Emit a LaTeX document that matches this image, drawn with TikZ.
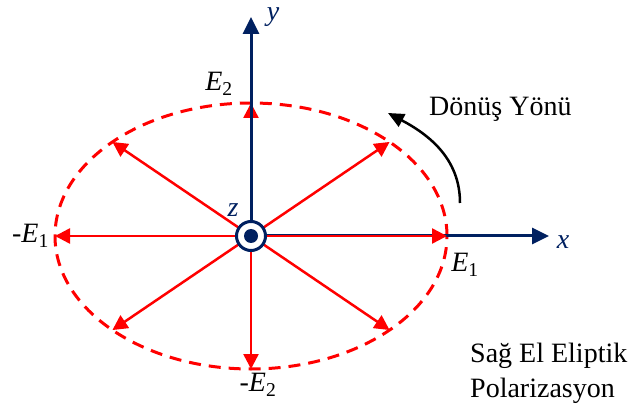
\documentclass[tikz,border=0pt]{standalone}
\usepackage{fontspec}
\setmainfont{Liberation Serif}
\usepackage{xcolor}
\usetikzlibrary{positioning,arrows.meta}
\definecolor{axisblue}{HTML}{002060}

\begin{document}
\begin{tikzpicture}[
x=1pt, y=1pt,
font=\fontsize{28}{35}\selectfont,
field/.style={-{Triangle[length=15pt,width=15pt]}, line width=2.5pt, red},
axis/.style={-{Triangle[length=17pt,width=16pt]}, line width=3pt, axisblue},
lbl/.style={inner sep=1pt, font=\fontsize{28}{35}\selectfont\itshape},
turn/.style={-{Triangle[length=16pt,width=14pt]}, line width=2.5pt, black}
]
\useasboundingbox (0,0) rectangle (636,415);
\coordinate (c) at (251,179);
\draw[red, line width=3pt, dash pattern=on 12pt off 8pt] (c) ellipse [x radius=196, y radius=133];
\foreach \a in {0,45,...,315}
  \path (c) ++(\a:196 and 133) coordinate (p\a);
\coordinate (xend) at (549,179);
\coordinate (yend) at (251,398);
\draw[axis] (c) -- (xend);
\foreach \a in {0,45,...,315}
  \draw[field] (c) -- (p\a);
\draw[axis] (c) -- (yend);
\node[circle, draw=axisblue, line width=3pt, fill=white, minimum size=29pt, inner sep=0pt] (origin) at (c) {};
\node[circle, fill=axisblue, minimum size=14pt, inner sep=0pt] (dot) at (c) {};
\node[lbl, text=axisblue] (xlab) at (563,173) {x};
\node[lbl, text=axisblue] (ylab) at (273,398) {y};
\node[lbl, text=axisblue] (zlab) at (233,205) {z};
\node[lbl] (e1) at (465,150) {E\textsubscript{\upshape 1}};
\node[lbl, anchor=east] (me1) at (50,179) {\upshape -\itshape E\textsubscript{\upshape 1}};
\node[lbl] (e2) at (219,331) {E\textsubscript{\upshape 2}};
\node[lbl] (me2) at (258,30) {\upshape -\itshape E\textsubscript{\upshape 2}};
% rotation sense
\coordinate (tfrom) at (460,212);
\coordinate (tto) at (388,302);
\draw[turn] (tfrom) to[out=90, in=-28] (tto);
\node[anchor=base west, inner sep=0pt] (dir) at (429,299) {Dönüş Yönü};
\node[anchor=base west, inner sep=0pt] (pol) at (470,53) {Sağ El Eliptik};
\node[anchor=base west, inner sep=0pt] (pol2) at (470,18) {Polarizasyon};
\end{tikzpicture}
\end{document}
